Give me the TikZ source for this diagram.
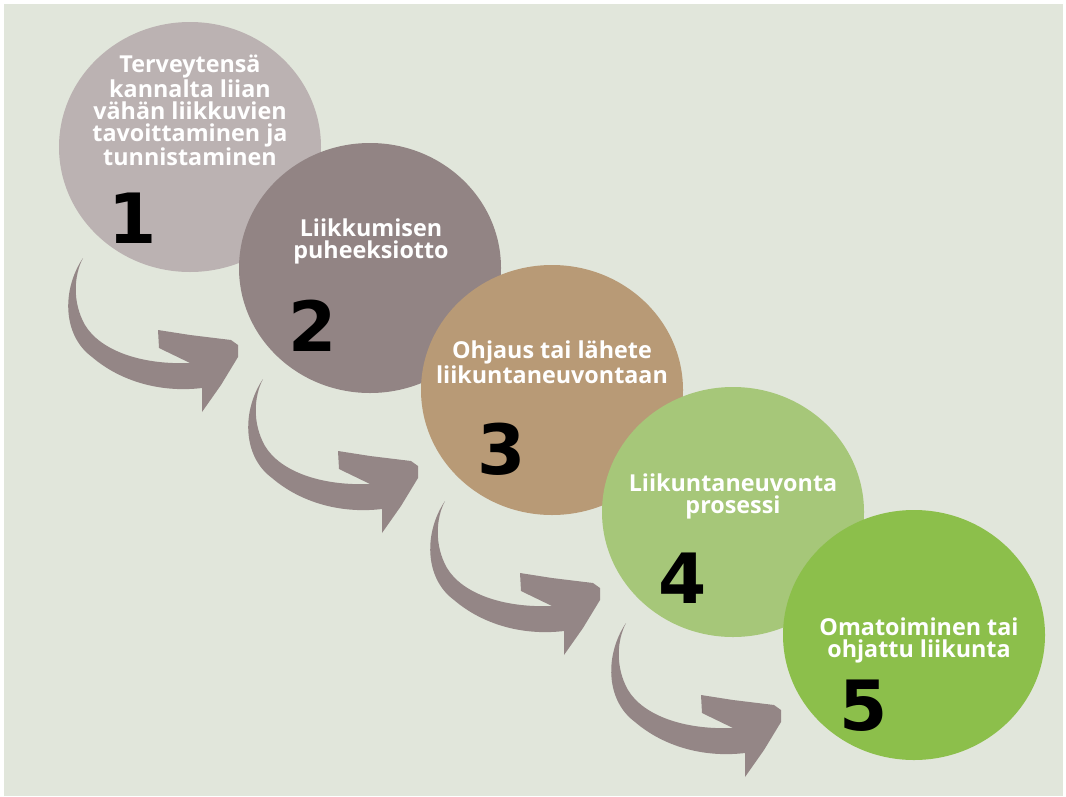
\documentclass[tikz,border=0pt]{standalone}
\usepackage{fontspec}
\usepackage{tikz}
\usetikzlibrary{shapes.geometric}
\newfontfamily\stepfont{Open Sans}
\newfontfamily\numfont{DejaVu Sans}
\definecolor{bggreen}{HTML}{E1E6DB}
\definecolor{stepA}{HTML}{BBB2B2}
\definecolor{stepB}{HTML}{928484}
\definecolor{stepC}{HTML}{B89A76}
\definecolor{stepD}{HTML}{A6C779}
\definecolor{stepE}{HTML}{8CBF4B}
\definecolor{arrowgray}{HTML}{948686}

\begin{document}
\begin{tikzpicture}[x=0.75pt, y=-0.75pt,
    stage/.style={ellipse, minimum width=196.5pt, minimum height=187.5pt, inner sep=0},
    stagetext/.style={align=center, inner sep=0, text=white,
      font={\stepfont\bfseries\fontsize{17.5}{16.5}\selectfont}},
    stagenum/.style={inner sep=0, font={\numfont\bfseries\fontsize{52}{52}\selectfont}},
    bendarrow/.style={fill=arrowgray}]
    % Background
    \useasboundingbox (0,0) rectangle (1066,796);
    \fill[white] (0,0) rectangle (1066,796);
    \fill[bggreen] (4,4) rectangle (1063,796);
    % Circles
    \node[stage, fill=stepA] (c1) at (190,147) {};
    \node[stage, fill=stepB] (c2) at (370,268) {};
    \node[stage, fill=stepC] (c3) at (552,390) {};
    \node[stage, fill=stepD] (c4) at (733,512) {};
    \node[stage, fill=stepE] (c5) at (914,635) {};
    % Curved arrows
    \foreach \c in {c1,c2,c3,c4}
      \fill[bendarrow, shift={(\c.center)}] (-107,111)
        .. controls (-128,142) and (-128,188) .. (-98,210)
        .. controls (-70,234) and (-30,246) .. (12,241)
        -- (12,265) -- (31,238) -- (48,210) -- (48,198) -- (41,193)
        -- (0,188) -- (-32,183) -- (-31,201) -- (0,216)
        .. controls (-50,218) and (-90,203) .. (-105,178)
        .. controls (-118,155) and (-116,128) .. cycle;
    % Texts
    \node[stagetext] (t1) at (190,110.5) {Terveytensä\\kannalta liian\\vähän liikkuvien\\tavoittaminen ja\\tunnistaminen};
    \node[stagetext] (t2) at (371,241) {Liikkumisen\\puheeksiotto};
    \node[stagetext] (t3) at (552,362.5) {Ohjaus tai lähete\\liikuntaneuvontaan};
    \node[stagetext] (t4) at (733,496) {Liikuntaneuvonta\\prosessi};
    \node[stagetext] (t5) at (919,640) {Omatoiminen tai\\ohjattu liikunta};
    % Numbers
    \node[stagenum] (n1) at (133,218) {1};
    \node[stagenum] (n2) at (313,326) {2};
    \node[stagenum] (n3) at (502,449) {3};
    \node[stagenum] (n4) at (683,578) {4};
    \node[stagenum] (n5) at (864,706) {5};
\end{tikzpicture}
\end{document}
